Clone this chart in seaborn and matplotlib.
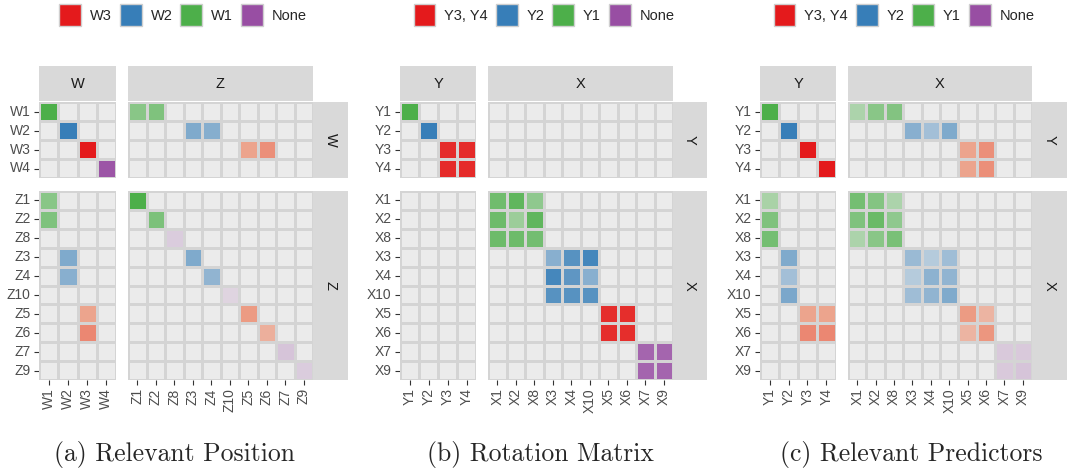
import matplotlib
matplotlib.use("Agg")
import matplotlib.pyplot as plt
from matplotlib.colors import ListedColormap, LinearSegmentedColormap
from matplotlib.patches import Patch
import pandas as pd
import seaborn as sns

sns.set_theme(style="white")
plt.rcParams["font.family"] = ["Liberation Sans", "DejaVu Sans"]

# ---------------------------------------------------------------- data
W_VARS = ["W1", "W2", "W3", "W4"]
Z_VARS = ["Z1", "Z2", "Z8", "Z3", "Z4", "Z10", "Z5", "Z6", "Z7", "Z9"]
Y_VARS = ["Y1", "Y2", "Y3", "Y4"]
X_VARS = ["X1", "X2", "X8", "X3", "X4", "X10", "X5", "X6", "X7", "X9"]

# group membership of every variable (drives the fill colour)
WZ_GROUPS = {"W1": "green", "W2": "blue", "W3": "red", "W4": "purple",
             "Z1": "green", "Z2": "green", "Z3": "blue", "Z4": "blue",
             "Z5": "red", "Z6": "red", "Z7": "purple", "Z8": "purple",
             "Z9": "purple", "Z10": "purple"}
YX_GROUPS = {"Y1": "green", "Y2": "blue", "Y3": "red", "Y4": "red",
             "X1": "green", "X2": "green", "X8": "green",
             "X3": "blue", "X4": "blue", "X10": "blue",
             "X5": "red", "X6": "red", "X7": "purple", "X9": "purple"}

LEGEND_WZ = ["W3", "W2", "W1", "None"]
LEGEND_YX = ["Y3, Y4", "Y2", "Y1", "None"]

# non-zero cells: (row, column, level)
POSITION_CELLS = [
    ("W1", "W1", 1.0), ("W2", "W2", 1.0), ("W3", "W3", 1.0), ("W4", "W4", 0.95),
    ("W1", "Z1", 0.62), ("W1", "Z2", 0.68), ("W2", "Z3", 0.6), ("W2", "Z4", 0.56),
    ("W3", "Z5", 0.45), ("W3", "Z6", 0.55),
    ("Z1", "W1", 0.62), ("Z2", "W1", 0.68), ("Z3", "W2", 0.6), ("Z4", "W2", 0.55),
    ("Z5", "W3", 0.45), ("Z6", "W3", 0.58),
    ("Z1", "Z1", 1.0), ("Z2", "Z2", 0.7), ("Z8", "Z8", 0.2), ("Z3", "Z3", 0.6),
    ("Z4", "Z4", 0.5), ("Z10", "Z10", 0.15), ("Z5", "Z5", 0.5), ("Z6", "Z6", 0.38),
    ("Z7", "Z7", 0.25), ("Z9", "Z9", 0.2),
]

ROTATION_CELLS = [
    ("Y1", "Y1", 1.0), ("Y2", "Y2", 1.0),
    ("Y3", "Y3", 0.93), ("Y3", "Y4", 0.93), ("Y4", "Y3", 0.93), ("Y4", "Y4", 0.93),
    ("X1", "X1", 0.78), ("X1", "X2", 0.88), ("X1", "X8", 0.58),
    ("X2", "X1", 0.8), ("X2", "X2", 0.5), ("X2", "X8", 0.88),
    ("X8", "X1", 0.8), ("X8", "X2", 0.8), ("X8", "X8", 0.76),
    ("X3", "X3", 0.55), ("X3", "X4", 0.82), ("X3", "X10", 0.92),
    ("X4", "X3", 0.92), ("X4", "X4", 0.78), ("X4", "X10", 0.55),
    ("X10", "X3", 0.82), ("X10", "X4", 0.82), ("X10", "X10", 0.82),
    ("X5", "X5", 0.92), ("X5", "X6", 0.92), ("X6", "X5", 0.92), ("X6", "X6", 0.92),
    ("X7", "X7", 0.85), ("X7", "X9", 0.85), ("X9", "X7", 0.85), ("X9", "X9", 0.85),
]

PREDICTOR_CELLS = [
    ("Y1", "Y1", 1.0), ("Y2", "Y2", 1.0), ("Y3", "Y3", 1.0), ("Y4", "Y4", 1.0),
    ("Y1", "X1", 0.4), ("Y1", "X2", 0.62), ("Y1", "X8", 0.66),
    ("Y2", "X3", 0.55), ("Y2", "X4", 0.4), ("Y2", "X10", 0.6),
    ("Y3", "X5", 0.45), ("Y3", "X6", 0.55), ("Y4", "X5", 0.45), ("Y4", "X6", 0.55),
    ("X1", "Y1", 0.42), ("X2", "Y1", 0.68), ("X8", "Y1", 0.75),
    ("X3", "Y2", 0.6), ("X4", "Y2", 0.4), ("X10", "Y2", 0.62),
    ("X5", "Y3", 0.45), ("X5", "Y4", 0.45), ("X6", "Y3", 0.58), ("X6", "Y4", 0.58),
    ("X1", "X1", 0.75), ("X1", "X2", 0.65), ("X1", "X8", 0.4),
    ("X2", "X1", 0.68), ("X2", "X2", 0.82), ("X2", "X8", 0.58),
    ("X8", "X1", 0.4), ("X8", "X2", 0.62), ("X8", "X8", 0.72),
    ("X3", "X3", 0.45), ("X3", "X4", 0.3), ("X3", "X10", 0.42),
    ("X4", "X3", 0.3), ("X4", "X4", 0.52), ("X4", "X10", 0.5),
    ("X10", "X3", 0.42), ("X10", "X4", 0.5), ("X10", "X10", 0.6),
    ("X5", "X5", 0.5), ("X5", "X6", 0.35), ("X6", "X5", 0.35), ("X6", "X6", 0.52),
    ("X7", "X7", 0.22), ("X7", "X9", 0.22), ("X9", "X7", 0.22), ("X9", "X9", 0.25),
]

# ---------------------------------------------------------------- style
PALETTE = {"red": "#E41A1C", "blue": "#377EB8", "green": "#4DAF4A", "purple": "#984EA3"}
BG = "#EBEBEB"
# fill ramps from the empty-cell grey up to the full group colour
RAMPS = {
    "red": [BG, "#EC9C83", "#E41A1C"],
    "blue": [BG, "#377EB8"],
    "green": [BG, "#4DAF4A"],
    "purple": [BG, "#984EA3"],
}
LEGEND_ORDER = ["red", "blue", "green", "purple"]
GRID = "#D4D4D4"
STRIP = "#D9D9D9"
LW = 1.0

FIG_W, FIG_H = 1069, 471
fig = plt.figure(figsize=(FIG_W / 100, FIG_H / 100), dpi=100)


def rect(x0, y0, x1, y1):
    return [x0 / FIG_W, 1 - y1 / FIG_H, (x1 - x0) / FIG_W, (y1 - y0) / FIG_H]


ROW_SPANS = [(102, 178), (191, 380)]
TOP_STRIP = (66, 101)


def draw_facet(ax, rows, cols, cells, groups, show_y, show_x):
    lvl = pd.DataFrame(0.0, index=rows, columns=cols)
    for r, c, v in cells:
        if r in rows and c in cols:
            lvl.loc[r, c] = v
    grp = pd.DataFrame([[groups[r] for _ in cols] for r in rows], index=rows, columns=cols)
    sns.heatmap(lvl * 0, cmap=ListedColormap([BG]), vmin=0, vmax=1, cbar=False,
                linewidths=LW, linecolor=GRID, xticklabels=True, yticklabels=True, ax=ax)
    for g in PALETTE:
        show = (grp == g) & (lvl > 0)
        if show.values.any():
            cmap = LinearSegmentedColormap.from_list(g, RAMPS[g])
            sns.heatmap(lvl, mask=~show, cmap=cmap, vmin=0, vmax=1, cbar=False,
                        linewidths=LW, linecolor=GRID, xticklabels=True,
                        yticklabels=True, ax=ax)
    ax.set_xlabel("")
    ax.set_ylabel("")
    ax.tick_params(axis="both", length=3.5, width=0.8, color="#333333",
                   labelcolor="#4D4D4D", labelsize=10, pad=2.5,
                   left=show_y, labelleft=show_y, bottom=show_x, labelbottom=show_x)
    plt.setp(ax.get_yticklabels(), rotation=0, va="center")
    plt.setp(ax.get_xticklabels(), rotation=90, ha="center", va="top")


def strip(rect_px, label, rotation=0):
    sax = fig.add_axes(rect(*rect_px))
    sax.set_facecolor(STRIP)
    sax.set_xticks([])
    sax.set_yticks([])
    for s in sax.spines.values():
        s.set_visible(False)
    sax.text(0.5, 0.5, label, transform=sax.transAxes, ha="center", va="center",
             rotation=rotation, fontsize=10.5, color="#1A1A1A")


def draw_panel(col_spans, right_strip, blocks, names, cells, groups,
               legend_labels, legend_cx, caption, caption_cx):
    for j, (x0, x1) in enumerate(col_spans):
        strip((x0, TOP_STRIP[0], x1, TOP_STRIP[1]), names[j])
    for i, (y0, y1) in enumerate(ROW_SPANS):
        strip((right_strip[0], y0, right_strip[1], y1), names[i], rotation=-90)
        for j, (x0, x1) in enumerate(col_spans):
            ax = fig.add_axes(rect(x0, y0, x1, y1))
            draw_facet(ax, blocks[i], blocks[j], cells, groups,
                       show_y=(j == 0), show_x=(i == len(ROW_SPANS) - 1))
    handles = [Patch(facecolor=PALETTE[c], edgecolor="#CFCFCF", linewidth=1.0)
               for c in LEGEND_ORDER]
    fig.legend(handles, legend_labels, loc="center", ncol=4, frameon=False,
               bbox_to_anchor=(legend_cx / FIG_W, 1 - 15 / FIG_H),
               fontsize=10.5, handlelength=1.5, handleheight=2.0,
               handletextpad=0.6, columnspacing=0.55, borderpad=0)
    fig.text(caption_cx / FIG_W, 1 - 455 / FIG_H, caption, ha="center",
             va="center", fontsize=18.5, family="cmr10")


draw_panel([(39, 116), (128, 313)], (313, 348), [W_VARS, Z_VARS], ["W", "Z"],
           POSITION_CELLS, WZ_GROUPS, LEGEND_WZ, 183, "(a) Relevant Position", 175)
draw_panel([(400, 476), (488, 673)], (673, 707), [Y_VARS, X_VARS], ["Y", "X"],
           ROTATION_CELLS, YX_GROUPS, LEGEND_YX, 544, "(b) Rotation Matrix", 540)
draw_panel([(760, 836), (848, 1032)], (1032, 1067), [Y_VARS, X_VARS], ["Y", "X"],
           PREDICTOR_CELLS, YX_GROUPS, LEGEND_YX, 904, "(c) Relevant Predictors", 911)

fig.savefig("out.png", dpi=100)
